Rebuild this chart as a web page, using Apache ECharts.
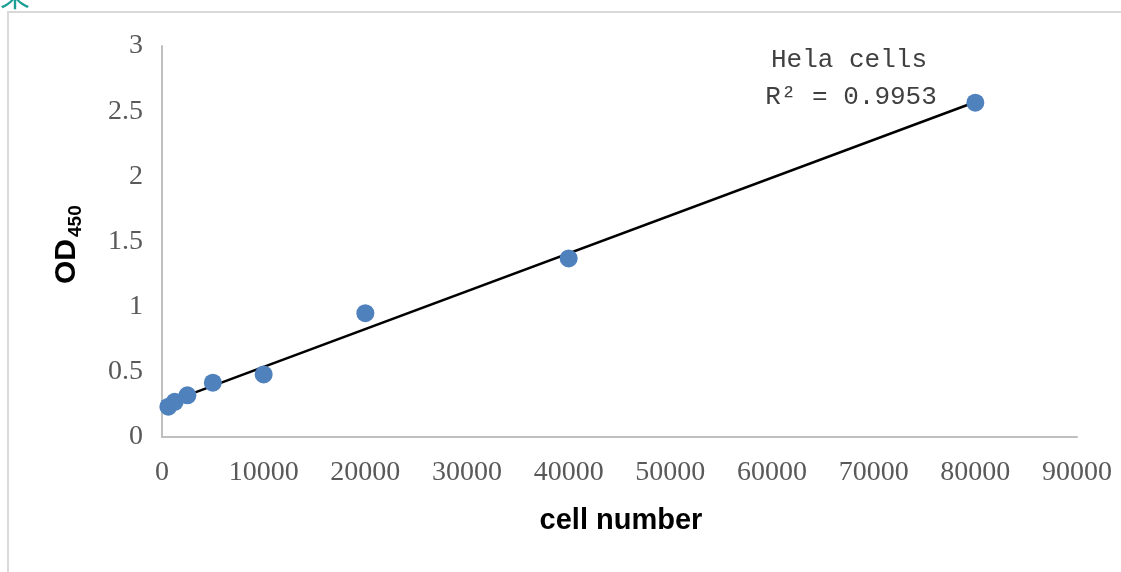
<!DOCTYPE html>
<html>
<head>
<meta charset="utf-8">
<script src="https://cdn.jsdelivr.net/npm/echarts@6/dist/echarts.min.js"></script>
<style>
html,body{margin:0;padding:0;background:#fff;}
#chart{width:1121px;height:572px;}
</style>
</head>
<body>
<div id="chart"></div>
<script>
const cellNumbers = [625, 1250, 2500, 5000, 10000, 20000, 40000, 80000];
const od450 = [0.233, 0.27, 0.32, 0.417, 0.48, 0.95, 1.37, 2.565];
const annotationLines = ['Hela cells', 'R² = 0.9953'];
const xTitle = 'cell number';

// least-squares linear trendline from the data
const n = cellNumbers.length;
const mx = cellNumbers.reduce((a, b) => a + b, 0) / n;
const my = od450.reduce((a, b) => a + b, 0) / n;
let sxy = 0, sxx = 0;
for (let i = 0; i < n; i++) {
  sxy += (cellNumbers[i] - mx) * (od450[i] - my);
  sxx += (cellNumbers[i] - mx) * (cellNumbers[i] - mx);
}
const slope = sxy / sxx;
const intercept = my - slope * mx;
const xMin = Math.min(...cellNumbers), xMax = Math.max(...cellNumbers);
const trend = [[xMin, intercept + slope * xMin], [xMax, intercept + slope * xMax]];

const chart = echarts.init(document.getElementById('chart'));
const tickFont = { fontFamily: 'Liberation Serif', fontSize: 28, color: '#595959' };
chart.setOption({
  animation: false,
  grid: { left: 162, right: 44, top: 46, bottom: 135 },
  xAxis: {
    type: 'value', min: 0, max: 90000, interval: 10000,
    axisLine: { show: true, lineStyle: { color: '#bfbfbf', width: 2 } },
    axisTick: { show: false },
    splitLine: { show: false },
    axisLabel: Object.assign({ margin: 22, formatter: v => String(v) }, tickFont)
  },
  yAxis: {
    type: 'value', min: 0, max: 3, interval: 0.5,
    axisLine: { show: true, lineStyle: { color: '#bfbfbf', width: 2 } },
    axisTick: { show: false },
    splitLine: { show: false },
    axisLabel: Object.assign({ margin: 19 }, tickFont)
  },
  series: [
    {
      type: 'line', data: trend, symbol: 'none', silent: true,
      lineStyle: { color: '#000', width: 2.5 }, z: 3
    },
    {
      type: 'scatter', data: cellNumbers.map((x, i) => [x, od450[i]]),
      symbolSize: 18, itemStyle: { color: '#4f81bd', opacity: 1 }, z: 4
    }
  ],
  graphic: [
    { type: 'rect', shape: { x: 8, y: 12, width: 1300, height: 800 },
      style: { fill: 'none', stroke: '#d9d9d9', lineWidth: 2 }, silent: true },
    { type: 'text', left: 0, top: -20,
      style: { text: '果', font: '30px "Noto Sans CJK SC"', fill: '#1a9e94' } },
    { type: 'text', x: 849, y: 60,
      style: { text: annotationLines[0], font: '26px "Liberation Mono"', fill: '#404040',
               textAlign: 'center', textVerticalAlign: 'middle' } },
    { type: 'text', x: 851, y: 97,
      style: { text: annotationLines[1], font: '26px "Liberation Mono"', fill: '#404040',
               textAlign: 'center', textVerticalAlign: 'middle' } },
    { type: 'text', x: 621, y: 521,
      style: { text: xTitle, font: 'bold 29px "Liberation Sans"', fill: '#000',
               textAlign: 'center', textVerticalAlign: 'middle' } },
    { type: 'group', x: 67, y: 243, rotation: Math.PI / 2,
      children: [
        { type: 'text', x: -41, y: 0,
          style: { text: 'OD', font: 'bold 30px "Liberation Sans"', fill: '#000',
                   textAlign: 'left', textVerticalAlign: 'middle' } },
        { type: 'text', x: 6, y: 9,
          style: { text: '450', font: 'bold 19px "Liberation Sans"', fill: '#000',
                   textAlign: 'left', textVerticalAlign: 'middle' } }
      ]
    }
  ]
});
</script>
</body>
</html>
